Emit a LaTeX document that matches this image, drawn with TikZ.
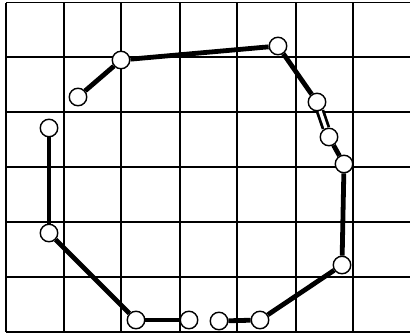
\documentclass[tikz,border=0pt]{standalone}
\usetikzlibrary{backgrounds}
\begin{document}
\begin{tikzpicture}[x=1pt,y=-1pt,
  gridline/.style={line width=1.8pt,black},
  edge/.style={line width=4.8pt,black},
  dbledge/.style={line width=2.8pt,black,double=white,double distance=3.2pt},
  pt/.style={circle,draw=black,fill=white,line width=1.4pt,minimum size=17.5pt,inner sep=0pt}]
\useasboundingbox (0,0) rectangle (410,335);
% nodes
\node[pt] (a) at (78,97) {};
\node[pt] (b) at (121,60) {};
\node[pt] (c) at (278,46) {};
\node[pt] (d) at (317,102) {};
\node[pt] (e) at (329,137) {};
\node[pt] (f) at (344,164) {};
\node[pt] (g) at (342,265) {};
\node[pt] (h) at (260,320) {};
\node[pt] (i) at (219,321) {};
\node[pt] (j) at (189,320) {};
\node[pt] (k) at (136,320) {};
\node[pt] (l) at (49,233) {};
\node[pt] (m) at (49,128) {};
\begin{scope}[on background layer]
  % grid
  \foreach \x in {6,64,121,180,237,296,353}
    \draw[gridline] (\x,2.5) -- (\x,332);
  \foreach \y in {2.5,57,112,167,222,277,332}
    \draw[gridline] (6,\y) -- (410,\y);
  % edges
  \draw[edge] (a) -- (b);
  \draw[edge] (b) -- (c);
  \draw[edge] (c) -- (d);
  \draw[dbledge] (d) -- (e);
  \draw[edge] (e) -- (f);
  \draw[edge] (f) -- (g);
  \draw[edge] (g) -- (h);
  \draw[edge] (i) -- (h);
  \draw[edge] (j) -- (k);
  \draw[edge] (k) -- (l);
  \draw[edge] (l) -- (m);
\end{scope}
\end{tikzpicture}
\end{document}
